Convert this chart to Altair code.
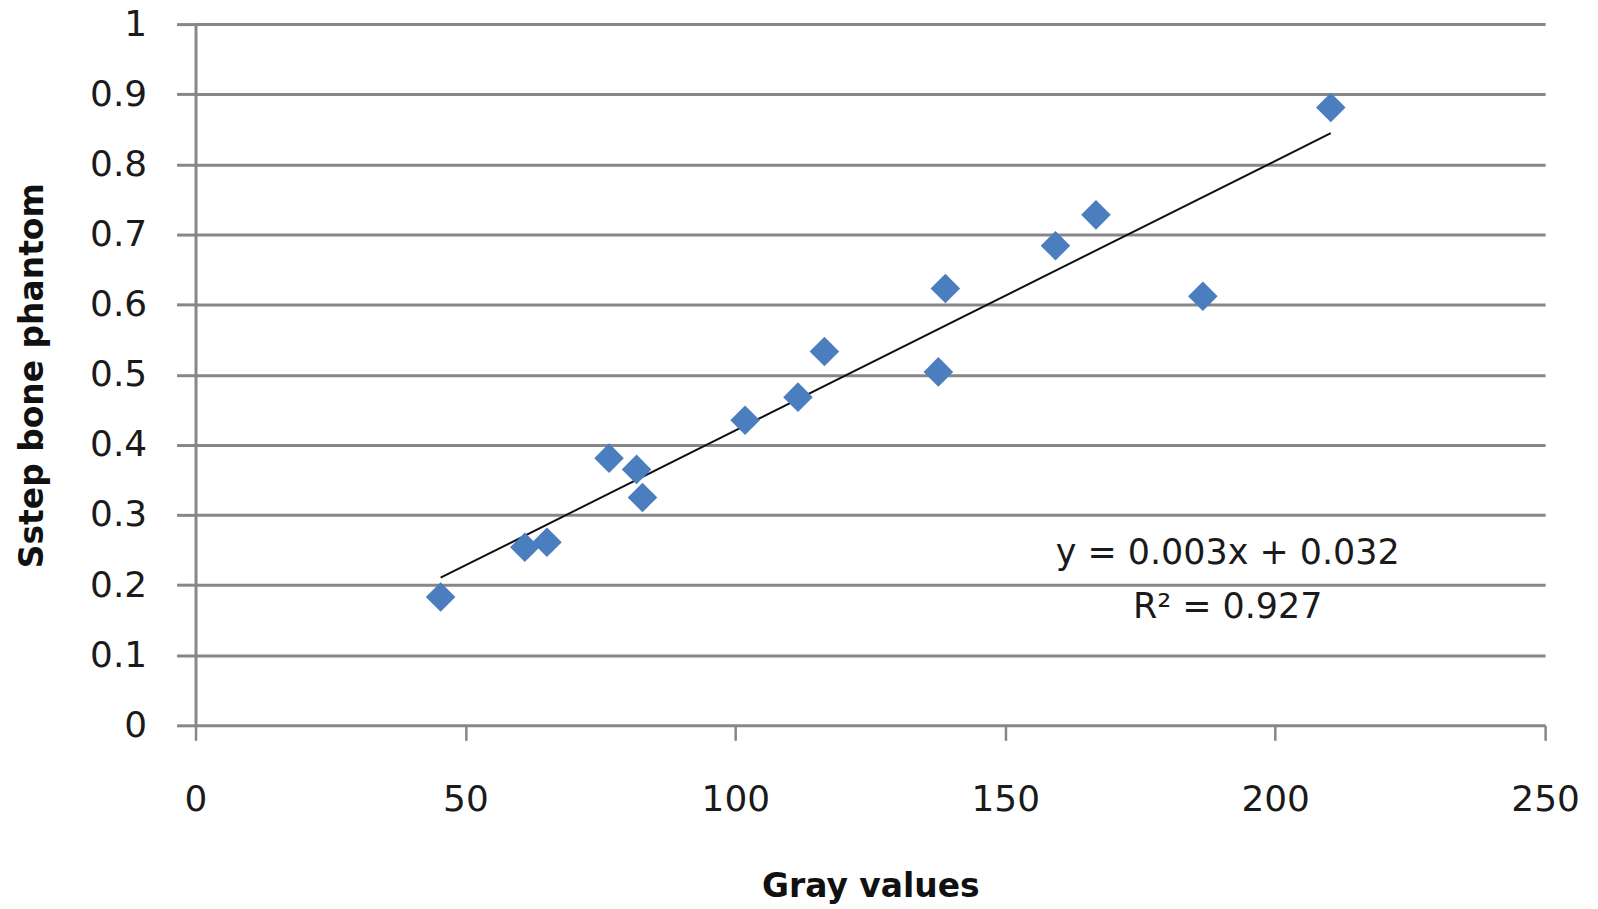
import altair as alt
import pandas as pd

# Data
gray_values = [45.4, 61.0, 65.1, 76.6, 81.7, 82.8, 101.8, 111.6, 116.5, 137.6,
               138.9, 159.3, 166.8, 186.6, 210.3]
phantom_values = [0.183, 0.254, 0.261, 0.381, 0.365, 0.325, 0.435, 0.468, 0.533, 0.504,
                  0.623, 0.684, 0.728, 0.612, 0.881]

ann_x = [191.2, 191.2]
ann_y = [0.246, 0.168]
ann_text = ["y = 0.003x + 0.032", "R\u00b2 = 0.927"]

x_ticks = [0, 50, 100, 150, 200, 250]
y_ticks = [0, 0.1, 0.2, 0.3, 0.4, 0.5, 0.6, 0.7, 0.8, 0.9, 1]

df = pd.DataFrame({"x": gray_values, "y": phantom_values})
ann = pd.DataFrame({"x": ann_x, "y": ann_y, "t": ann_text})

FONT = "DejaVu Sans"
GRID = "#878787"

x_enc = alt.X(
    "x:Q",
    scale=alt.Scale(domain=[0, 250], nice=False, zero=False),
    axis=alt.Axis(
        title="Gray values", values=x_ticks, grid=False, format="d",
        domain=False, ticks=True, tickSize=15, tickColor=GRID, tickWidth=2.5,
        labelFont=FONT, labelFontSize=36, labelColor="#1a1a1a", labelPadding=42,
        labelFlush=False,
        titleFont=FONT, titleFontSize=33, titleFontWeight="bold", titleColor="#111111",
        titleBaseline="top", titleY=146,
    ),
)
y_enc = alt.Y(
    "y:Q",
    scale=alt.Scale(domain=[0, 1], nice=False, zero=False),
    axis=alt.Axis(
        title="Sstep bone phantom", values=y_ticks, grid=True, format="~g",
        gridColor=GRID, gridWidth=3,
        domain=True, domainColor=GRID, domainWidth=3,
        ticks=True, tickSize=19, tickColor=GRID, tickWidth=3,
        labelFont=FONT, labelFontSize=36, labelColor="#1a1a1a", labelPadding=30,
        labelFlush=False,
        titleFont=FONT, titleFontSize=33, titleFontWeight="bold", titleColor="#111111",
        titleAngle=270, titleBaseline="middle", titleX=-163, titleY=352,
    ),
)

points = alt.Chart(df).mark_point(
    shape="diamond", filled=True, size=880, color="#4A7EBF", opacity=1
).encode(x=x_enc, y=y_enc)

trend = alt.Chart(df).transform_regression("x", "y").mark_line(
    color="#111111", strokeWidth=2
).encode(x="x:Q", y="y:Q")

text = alt.Chart(ann).mark_text(
    font=FONT, fontSize=35, color="#1a1a1a", align="center", baseline="middle"
).encode(x="x:Q", y="y:Q", text="t:N")

chart = alt.layer(trend, points, text).properties(
    width=1353, height=703,
    autosize=alt.AutoSizeParams(type="none"),
    padding={"left": 188, "top": 15, "right": 45, "bottom": 183},
    background="white",
).configure_view(strokeWidth=0)

chart.save("out.html", embed_options={"renderer": "svg", "actions": False})
